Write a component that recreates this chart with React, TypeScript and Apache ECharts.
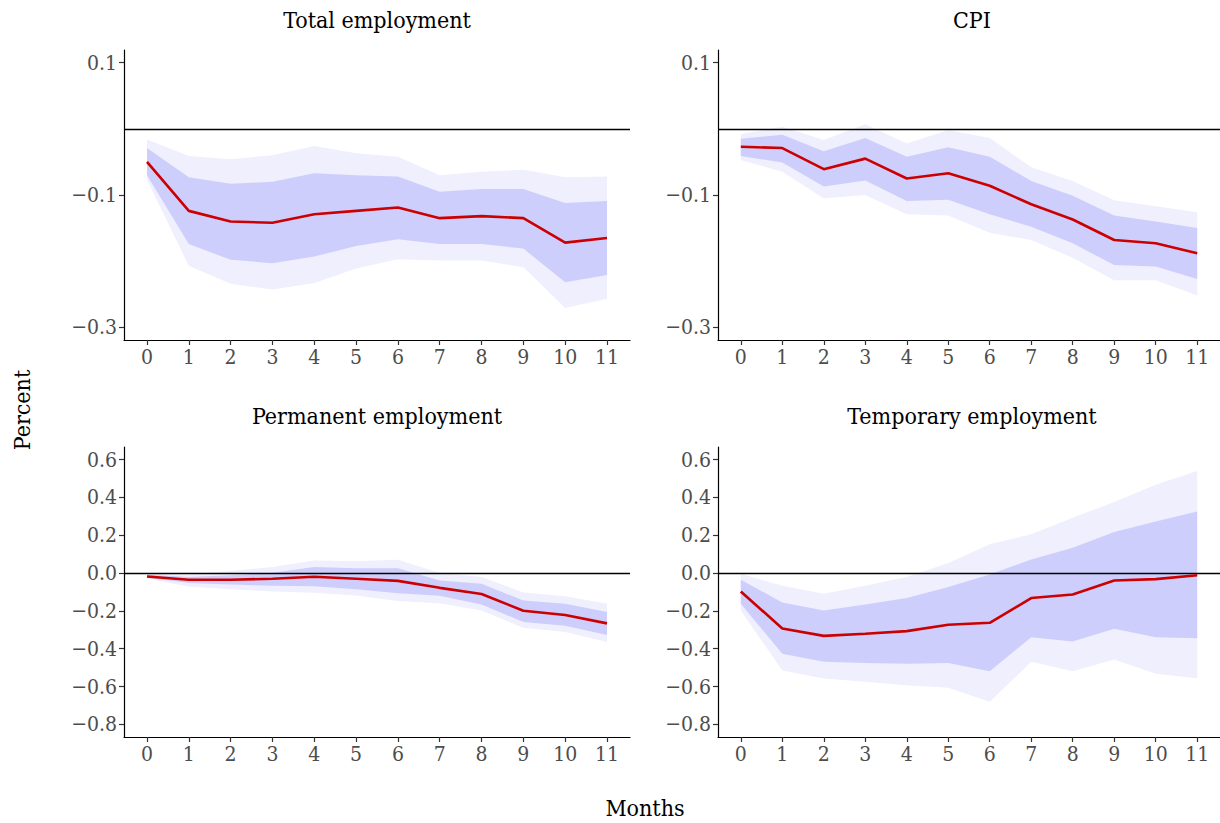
import React, { useEffect, useRef } from "react";
import * as echarts from "echarts";

const months = ["0", "1", "2", "3", "4", "5", "6", "7", "8", "9", "10", "11"];

const totLine = [-0.050, -0.124, -0.140, -0.142, -0.129, -0.124, -0.119, -0.135, -0.132, -0.135, -0.172, -0.165];
const totInnerHi = [-0.029, -0.073, -0.083, -0.080, -0.067, -0.070, -0.072, -0.095, -0.091, -0.091, -0.112, -0.109];
const totInnerLo = [-0.070, -0.174, -0.198, -0.203, -0.193, -0.177, -0.167, -0.174, -0.174, -0.181, -0.232, -0.221];
const totOuterHi = [-0.016, -0.041, -0.046, -0.040, -0.026, -0.037, -0.042, -0.070, -0.065, -0.062, -0.073, -0.072];
const totOuterLo = [-0.077, -0.207, -0.234, -0.243, -0.233, -0.211, -0.197, -0.199, -0.199, -0.209, -0.271, -0.257];

const cpiLine = [-0.027, -0.029, -0.061, -0.045, -0.075, -0.067, -0.086, -0.114, -0.137, -0.168, -0.173, -0.188];
const cpiInnerHi = [-0.015, -0.009, -0.034, -0.014, -0.042, -0.028, -0.042, -0.079, -0.101, -0.131, -0.140, -0.150];
const cpiInnerLo = [-0.041, -0.051, -0.087, -0.078, -0.109, -0.107, -0.129, -0.148, -0.173, -0.206, -0.208, -0.227];
const cpiOuterHi = [-0.008, 0.003, -0.017, 0.007, -0.022, -0.002, -0.014, -0.058, -0.079, -0.108, -0.117, -0.126];
const cpiOuterLo = [-0.047, -0.065, -0.105, -0.100, -0.129, -0.131, -0.157, -0.168, -0.195, -0.229, -0.229, -0.252];

const permLine = [-0.018, -0.035, -0.035, -0.030, -0.019, -0.030, -0.041, -0.078, -0.111, -0.199, -0.222, -0.266];
const permInnerHi = [-0.009, -0.021, -0.012, 0.002, 0.032, 0.026, 0.026, -0.039, -0.056, -0.145, -0.162, -0.206];
const permInnerLo = [-0.025, -0.053, -0.060, -0.067, -0.069, -0.085, -0.106, -0.120, -0.166, -0.259, -0.279, -0.328];
const permOuterHi = [-0.004, -0.007, 0.011, 0.032, 0.067, 0.063, 0.071, 0.000, -0.021, -0.102, -0.123, -0.162];
const permOuterLo = [-0.028, -0.071, -0.085, -0.097, -0.104, -0.118, -0.148, -0.159, -0.198, -0.289, -0.312, -0.365];

const tempLine = [-0.097, -0.293, -0.332, -0.321, -0.307, -0.273, -0.263, -0.132, -0.113, -0.039, -0.032, -0.011];
const tempInnerHi = [-0.035, -0.155, -0.198, -0.166, -0.132, -0.074, -0.007, 0.072, 0.134, 0.217, 0.273, 0.326];
const tempInnerLo = [-0.162, -0.427, -0.469, -0.476, -0.480, -0.476, -0.519, -0.339, -0.362, -0.295, -0.339, -0.344];
const tempOuterHi = [-0.004, -0.067, -0.109, -0.067, -0.021, 0.053, 0.152, 0.205, 0.293, 0.376, 0.467, 0.540];
const tempOuterLo = [-0.198, -0.515, -0.557, -0.575, -0.593, -0.607, -0.681, -0.469, -0.519, -0.457, -0.533, -0.556];

const panelTitles = ["Total employment", "CPI", "Permanent employment", "Temporary employment"];
const topTicks = [-0.3, -0.1, 0.1];
const bottomTicks = [-0.8, -0.6, -0.4, -0.2, 0.0, 0.2, 0.4, 0.6];

const FONT = "'DejaVu Serif Condensed', 'DejaVu Serif', serif";

export default function App() {
  const ref = useRef<HTMLDivElement>(null);
  useEffect(() => {
    if (!ref.current) return;
    const chart = echarts.init(ref.current, null, { renderer: "svg" });

    const panels = [
      { line: totLine, iH: totInnerHi, iL: totInnerLo, oH: totOuterHi, oL: totOuterLo, left: 124, top: 50, min: -0.3192, max: 0.1192, ticks: topTicks },
      { line: cpiLine, iH: cpiInnerHi, iL: cpiInnerLo, oH: cpiOuterHi, oL: cpiOuterLo, left: 718, top: 50, min: -0.3192, max: 0.1192, ticks: topTicks },
      { line: permLine, iH: permInnerHi, iL: permInnerLo, oH: permOuterHi, oL: permOuterLo, left: 124, top: 447, min: -0.867, max: 0.667, ticks: bottomTicks },
      { line: tempLine, iH: tempInnerHi, iL: tempInnerLo, oH: tempOuterHi, oL: tempOuterLo, left: 718, top: 447, min: -0.867, max: 0.667, ticks: bottomTicks },
    ];

    const fmt = (v: number) => Number(v).toFixed(1).replace("-", "\u2212");

    const grid: any[] = [];
    const xAxis: any[] = [];
    const yAxis: any[] = [];
    const series: any[] = [];

    const bandSeries = (i: number, hi: number[], lo: number[], color: string, z: number) => ({
      type: "custom",
      xAxisIndex: i,
      yAxisIndex: i,
      silent: true,
      z,
      clip: true,
      data: months.map((m, k) => [Number(m), lo[k], hi[k]]),
      renderItem: (params: any, api: any) => {
        if (params.dataIndex !== 0) return null;
        const upper = months.map((m, k) => api.coord([Number(m), hi[k]]));
        const lower = months.map((m, k) => api.coord([Number(m), lo[k]])).reverse();
        return {
          type: "polygon",
          shape: { points: upper.concat(lower) },
          style: { fill: color, stroke: "none" },
        };
      },
    });

    panels.forEach((p, i) => {
      grid.push({ left: p.left, top: p.top, width: 506, height: 290, containLabel: false });
      xAxis.push({
        type: "value",
        gridIndex: i,
        min: -0.55,
        max: 11.55,
        axisLine: { show: true, onZero: false, lineStyle: { color: "#000", width: 1.2 } },
        axisTick: { show: true, length: 5, lineStyle: { color: "#333", width: 1.2 }, customValues: months.map(Number) },
        axisLabel: {
          show: true,
          customValues: months.map(Number),
          formatter: (v: number) => months[Math.round(v)] ?? "",
          color: "#4d4d4d",
          fontFamily: FONT,
          fontSize: 21,
          margin: 6,
        },
        splitLine: { show: false },
      });
      yAxis.push({
        type: "value",
        gridIndex: i,
        min: p.min,
        max: p.max,
        axisLine: { show: true, onZero: false, lineStyle: { color: "#000", width: 1.2 } },
        axisTick: { show: true, length: 5, lineStyle: { color: "#333", width: 1.2 }, customValues: p.ticks },
        axisLabel: {
          show: true,
          customValues: p.ticks,
          formatter: fmt,
          color: "#4d4d4d",
          fontFamily: FONT,
          fontSize: 21,
          margin: 7,
        },
        splitLine: { show: false },
      });

      series.push(bandSeries(i, p.oH, p.oL, "#efeffd", 1));
      series.push(bandSeries(i, p.iH, p.iL, "#cecefc", 2));
      series.push({
        type: "line", xAxisIndex: i, yAxisIndex: i,
        data: months.map((m, k) => [Number(m), p.line[k]]),
        symbol: "none",
        lineStyle: { color: "#cc0000", width: 2.6 },
        markLine: {
          silent: true, symbol: ["none", "none"], label: { show: false },
          lineStyle: { color: "#000", width: 1.3, type: "solid" },
          data: [{ yAxis: 0 }],
          animation: false,
        },
        z: 5,
      });
    });

    const titleText = (text: string, x: number, y: number) => ({
      type: "text", x, y,
      style: { text, fill: "#000", font: `23px ${FONT}`, textAlign: "center", textVerticalAlign: "middle" },
    });

    chart.setOption({
      animation: false,
      backgroundColor: "#fff",
      grid, xAxis, yAxis, series,
      graphic: [
        titleText(panelTitles[0], 377, 20),
        titleText(panelTitles[1], 972, 20),
        titleText(panelTitles[2], 377, 416),
        titleText(panelTitles[3], 972, 416),
        titleText("Months", 645, 808),
        {
          type: "text", x: 22, y: 410, rotation: Math.PI / 2,
          style: { text: "Percent", fill: "#000", font: `23px ${FONT}`, textAlign: "center", textVerticalAlign: "middle" },
        },
      ],
    });

    return () => chart.dispose();
  }, []);

  return <div ref={ref} style={{ position: "absolute", left: 0, top: 0, width: 1220, height: 823 }} />;
}
